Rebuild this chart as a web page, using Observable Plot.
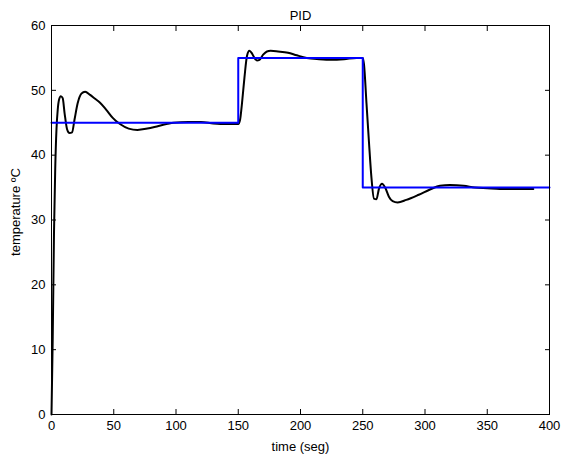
<!DOCTYPE html>
<html>
<head>
<meta charset="utf-8">
<script src="https://cdn.jsdelivr.net/npm/d3@7"></script>
<script src="https://cdn.jsdelivr.net/npm/@observablehq/plot@0.6"></script>
<style>
  html, body { margin: 0; padding: 0; background: white; }
</style>
</head>
<body>
<div id="chart"></div>
<script>
// Response (black) – time in seconds, temperature in ºC
const respTime = [0, 1, 2, 3, 4, 5, 6, 7.5, 9, 10.5, 12.5, 14.5, 16.5, 18.5, 21, 24, 27, 31, 35, 39, 44, 49, 55, 62, 69, 77, 86, 98, 110, 120, 130, 140, 150,
  151.5, 153, 155, 157, 159, 161, 163, 165, 167, 170, 173, 176, 182, 190, 197, 205, 215, 225, 235, 245, 250,
  251, 253, 255, 257, 259, 261, 263, 265.5, 268, 271, 274, 278, 285, 295, 304, 312, 320, 331, 340, 350, 360, 375, 387];
const respTemp = [0, 12, 28, 38, 44, 47, 48.5, 49.1, 48.8, 46.5, 44, 43.4, 43.5, 45.5, 48, 49.5, 49.8, 49.3, 48.7, 48.1, 47, 45.8, 44.8, 44.1, 43.9, 44.1, 44.5, 45, 45.1, 45.1, 44.9, 44.8, 44.8,
  45.5, 48, 52, 55.3, 56.1, 55.7, 55, 54.6, 54.7, 55.5, 56, 56.1, 56, 55.8, 55.4, 55, 54.8, 54.7, 54.8, 55, 55,
  54, 48, 42, 36.5, 33.3, 33.2, 34.8, 35.6, 35, 33.6, 32.9, 32.7, 33.1, 33.9, 34.7, 35.3, 35.4, 35.3, 35, 34.9, 34.8, 34.8, 34.8];

// Set point (blue)
const spTime = [0, 150, 250, 400];
const spTemp = [45, 55, 35, 35];

// Ticks and texts
const xTicks = [0, 50, 100, 150, 200, 250, 300, 350, 400];
const yTicks = [0, 10, 20, 30, 40, 50, 60];
const titleText = "PID";
const xLabel = "time (seg)";
const yLabel = "temperature ºC";

const resp = respTime.map((t, i) => ({t, v: respTemp[i]}));
const sp = spTime.map((t, i) => ({t, v: spTemp[i]}));

const chart = Plot.plot({
  width: 562,
  height: 464,
  marginLeft: 51,
  marginRight: 13,
  marginTop: 25,
  marginBottom: 50,
  style: {fontFamily: "'Liberation Sans', Arial, sans-serif", fontSize: "13px", background: "white", color: "black"},
  x: {domain: [0, 400], axis: null},
  y: {domain: [0, 60], axis: null},
  marks: [
    Plot.line(resp, {x: "t", y: "v", stroke: "black", strokeWidth: 2, curve: "monotone-x"}),
    Plot.line(sp, {x: "t", y: "v", stroke: "#0000ff", strokeWidth: 2, curve: "step-after"}),
    Plot.frame({stroke: "black", strokeWidth: 1}),
    // inward ticks on all four sides
    Plot.axisX(xTicks, {anchor: "bottom", tickSize: -5, tickFormat: () => "", label: null}),
    Plot.axisX(xTicks, {anchor: "top", tickSize: -5, tickFormat: () => "", label: null}),
    Plot.axisY(yTicks, {anchor: "left", tickSize: -5, tickFormat: () => "", label: null}),
    Plot.axisY(yTicks, {anchor: "right", tickSize: -5, tickFormat: () => "", label: null}),
    // tick labels
    Plot.axisX(xTicks, {anchor: "bottom", tickSize: 0, tickPadding: 6, label: null, fill: "black"}),
    Plot.axisY(yTicks, {anchor: "left", tickSize: 0, tickPadding: 6, label: null, fill: "black"}),
    // texts
    Plot.text([titleText], {frameAnchor: "top", dy: -15, text: d => d, fill: "black"}),
    Plot.text([xLabel], {frameAnchor: "bottom", dy: 36, text: d => d, fill: "black"}),
    Plot.text([yLabel], {frameAnchor: "left", dx: -36, dy: -8, rotate: -90, textAnchor: "middle", text: d => d, fill: "black"})
  ]
});

document.getElementById("chart").appendChild(chart);
</script>
</body>
</html>
